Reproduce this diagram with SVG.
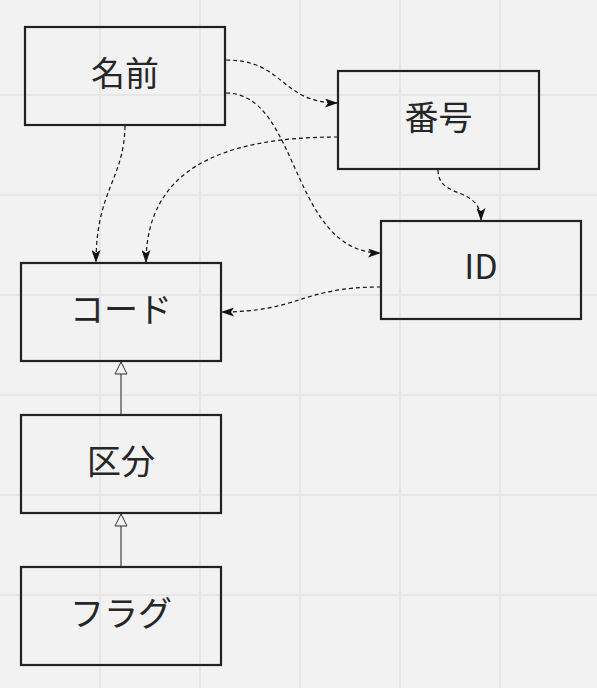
<svg xmlns="http://www.w3.org/2000/svg" width="597" height="688" viewBox="0 0 597 688">
<style>
.bg{fill:#f2f2f2}
.grid line{stroke:#e6e6e6;stroke-width:2}
.node rect{fill:none;stroke:#222;stroke-width:2.2}
.node text{font-family:"Noto Sans CJK JP","Noto Sans",sans-serif;font-size:34px;font-weight:400;fill:#262626;text-anchor:middle}
.dep{fill:none;stroke:#111;stroke-width:1.2;stroke-dasharray:4 3;marker-end:url(#arrow)}
.inh{fill:none;stroke:#444;stroke-width:1.2;marker-end:url(#tri)}
</style>
<defs>
<marker id="arrow" viewBox="0 0 13 9" refX="13" refY="4.5" markerWidth="13" markerHeight="9" markerUnits="userSpaceOnUse" orient="auto">
<path d="M0,0 L13,4.5 L0,9 L3,4.5 Z" fill="#111"/>
</marker>
<marker id="tri" viewBox="0 0 14 14" refX="13" refY="7" markerWidth="14" markerHeight="14" markerUnits="userSpaceOnUse" orient="auto">
<path d="M1,1 L13,7 L1,13 Z" fill="#f2f2f2" stroke="#333" stroke-width="1"/>
</marker>
</defs>
<rect class="bg" x="0" y="0" width="597" height="688"/>
<g class="grid">
<line x1="100" y1="0" x2="100" y2="688"/>
<line x1="200" y1="0" x2="200" y2="688"/>
<line x1="300" y1="0" x2="300" y2="688"/>
<line x1="400" y1="0" x2="400" y2="688"/>
<line x1="500" y1="0" x2="500" y2="688"/>
<line x1="0" y1="95" x2="597" y2="95"/>
<line x1="0" y1="195" x2="597" y2="195"/>
<line x1="0" y1="295" x2="597" y2="295"/>
<line x1="0" y1="395" x2="597" y2="395"/>
<line x1="0" y1="495" x2="597" y2="495"/>
<line x1="0" y1="595" x2="597" y2="595"/>
</g>
<g id="connectors">
<path class="dep" d="M226,60 C285,60 280,103 338,103"/>
<path class="dep" d="M226,93 C300,93 290,253 381,253"/>
<path class="dep" d="M338,137 C220,137 146,170 146,263"/>
<path class="dep" d="M125,126 C124,180 96,190 96,263"/>
<path class="dep" d="M438,170 C438,200 481,185 481,221"/>
<path class="dep" d="M381,287 C300,287 300,312 221,312"/>
<path class="inh" d="M121,415 L121,362"/>
<path class="inh" d="M121,567 L121,514"/>
</g>
<g id="node-namae" class="node">
<rect x="25" y="27" width="200" height="98"/>
<text x="125" y="86">名前</text>
</g>
<g id="node-bangou" class="node">
<rect x="338" y="71" width="201" height="98"/>
<text x="438.5" y="130">番号</text>
</g>
<g id="node-id" class="node">
<rect x="381" y="221" width="200" height="98"/>
<text x="481" y="279">ID</text>
</g>
<g id="node-code" class="node">
<rect x="21" y="263" width="200" height="98"/>
<text x="121" y="322">コード</text>
</g>
<g id="node-kubun" class="node">
<rect x="21" y="415" width="200" height="98"/>
<text x="121" y="474">区分</text>
</g>
<g id="node-flag" class="node">
<rect x="21" y="567" width="200" height="98"/>
<text x="121" y="626">フラグ</text>
</g>
</svg>
